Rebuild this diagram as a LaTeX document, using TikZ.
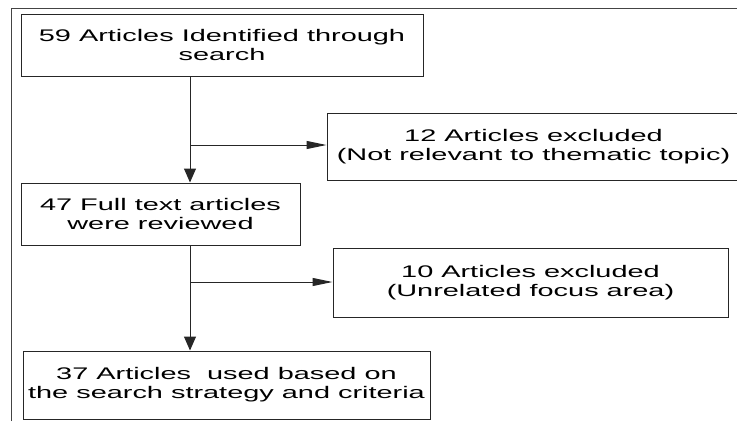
\documentclass[tikz,border=0pt]{standalone}
\usepackage{fontspec}
\usetikzlibrary{arrows.meta}
\newfontfamily\boxfont[FakeStretch=1.72]{Liberation Sans}
\definecolor{LineGrey}{HTML}{262626}
\definecolor{FrameGrey}{HTML}{444444}
\tikzset{
  stagebox/.style={draw=LineGrey, line width=1pt, fill=white, align=center,
                   inner sep=0pt, font=\boxfont\fontsize{16.8}{19}\selectfont},
  flowdown/.style={-{Triangle[length=14pt,width=12pt]}, line width=1pt, LineGrey},
  flowright/.style={-{Triangle[length=20pt,width=8pt]}, line width=1pt, LineGrey},
}
\begin{document}
\begin{tikzpicture}[x=1pt, y=-1pt]
  \useasboundingbox (0,0) rectangle (737,421);
  % frame lines (top and left only)
  \draw[FrameGrey, line width=1pt] (11.5,421) -- (11.5,8.5) -- (737,8.5);

  \node[stagebox, minimum width=402pt, minimum height=62pt] (s1) at (222,45)
    {59 Articles Identified through\\search};
  \node[stagebox, minimum width=279pt, minimum height=62pt] (s2) at (160.5,214)
    {47 Full text articles\\were reviewed};
  \node[stagebox, minimum width=407pt, minimum height=68pt] (s3) at (226.5,385)
    {37 Articles\ \ used based on\\the search strategy and criteria};
  \node[stagebox, minimum width=413pt, minimum height=67pt] (x1) at (533.5,146.5)
    {12 Articles excluded\\(Not relevant to thematic topic)};
  \node[stagebox, minimum width=395pt, minimum height=69pt] (x2) at (530.5,282.5)
    {10 Articles excluded\\(Unrelated focus area)};

  \coordinate (k1) at (190,145);
  \coordinate (k2) at (190,282);

  \draw[flowdown] (s1.south -| k1) -- (s2.north -| k1);
  \draw[flowright] (k1) -- (k1 -| x1.west);
  \draw[flowdown] (s2.south -| k2) -- (s3.north -| k2);
  \draw[flowright] (k2) -- (k2 -| x2.west);
\end{tikzpicture}
\end{document}
